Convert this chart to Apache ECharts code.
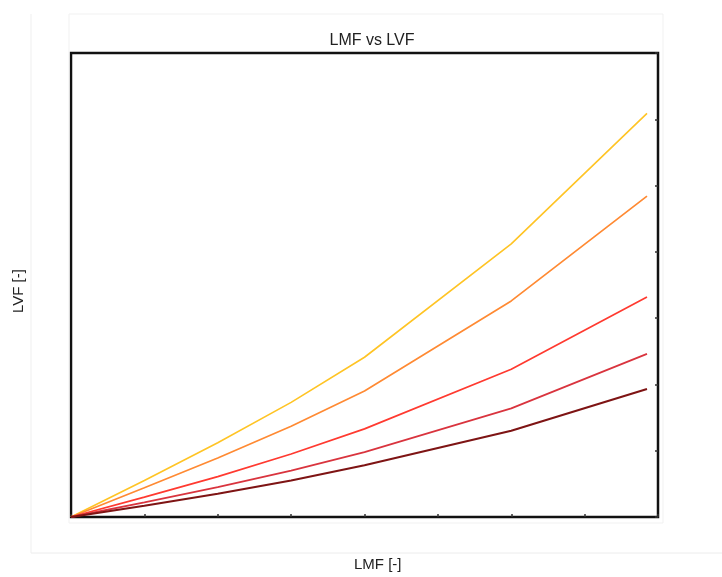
<!DOCTYPE html>
<html>
<head>
<meta charset="utf-8">
<script src="https://cdn.jsdelivr.net/npm/echarts@6/dist/echarts.min.js"></script>
<style>
  html, body { margin: 0; padding: 0; background: #fff; }
  #chart { width: 722px; height: 577px; }
</style>
</head>
<body>
<div id="chart"></div>
<script>
// LMF sample points (shared by every curve)
const lmf = [0, 1, 2, 3, 4, 6, 7.85];

// LVF curves, lightest to darkest
const lvfYellow  = [0, 0.55, 1.12, 1.73, 2.41, 4.12, 6.09];
const lvfOrange  = [0, 0.44, 0.89, 1.37, 1.90, 3.26, 4.84];
const lvfRed     = [0, 0.30, 0.61, 0.95, 1.33, 2.23, 3.32];
const lvfCrimson = [0, 0.22, 0.45, 0.70, 0.98, 1.64, 2.46];
const lvfDark    = [0, 0.17, 0.35, 0.55, 0.78, 1.30, 1.93];

const curves = [
  { values: lvfYellow,  color: '#ffc425', width: 1.6 },
  { values: lvfOrange,  color: '#ff8a33', width: 1.7 },
  { values: lvfRed,     color: '#ff3a30', width: 1.7 },
  { values: lvfCrimson, color: '#d9343e', width: 1.8 },
  { values: lvfDark,    color: '#7e1414', width: 2.1 }
];

const chart = echarts.init(document.getElementById('chart'), null, { renderer: 'canvas' });

chart.setOption({
  animation: false,
  backgroundColor: '#fff',
  title: {
    text: 'LMF vs LVF',
    left: 367,
    top: 28,
    textAlign: 'center',
    textStyle: { fontFamily: 'Liberation Sans', fontSize: 16, fontWeight: 'normal', color: '#222' }
  },
  graphic: [
    // faint panel outlines
    { type: 'rect', shape: { x: 69, y: 14, width: 594, height: 509 }, style: { fill: null, stroke: '#f1f1f1', lineWidth: 1 }, z: 0 },
    { type: 'line', shape: { x1: 31, y1: 14, x2: 31, y2: 553 }, style: { stroke: '#efefef', lineWidth: 1 }, z: 0 },
    { type: 'line', shape: { x1: 31, y1: 553, x2: 722, y2: 553 }, style: { stroke: '#ececec', lineWidth: 1 }, z: 0 },
    {
      type: 'text', left: 354, top: 557,
      style: { text: 'LMF [-]', font: '15px "Liberation Sans"', fill: '#222' }
    },
    {
      type: 'text', x: 19, y: 291, rotation: Math.PI / 2,
      style: { text: 'LVF [-]', font: '15px "Liberation Sans"', fill: '#222', align: 'center', verticalAlign: 'middle' }
    }
  ],
  grid: {
    left: 71, top: 53, width: 587, height: 464,
    show: true, borderColor: '#111', borderWidth: 2.5, backgroundColor: '#fff'
  },
  xAxis: {
    type: 'value', min: 0, max: 8, interval: 1,
    axisLine: { show: false, onZero: false },
    axisTick: { show: true, inside: true, length: 3, lineStyle: { color: '#333', width: 1.5 } },
    axisLabel: { show: false },
    splitLine: { show: false }
  },
  yAxis: {
    type: 'value', min: 0, max: 7, interval: 1, position: 'right',
    axisLine: { show: false, onZero: false },
    axisTick: { show: true, inside: true, length: 3, lineStyle: { color: '#333', width: 1.5 } },
    axisLabel: { show: false },
    splitLine: { show: false }
  },
  series: curves.map((c, i) => ({
    type: 'line',
    data: lmf.map((x, k) => [x, c.values[k]]),
    showSymbol: false,
    symbol: 'none',
    lineStyle: { color: c.color, width: c.width },
    z: 2 + i
  }))
});
</script>
</body>
</html>
